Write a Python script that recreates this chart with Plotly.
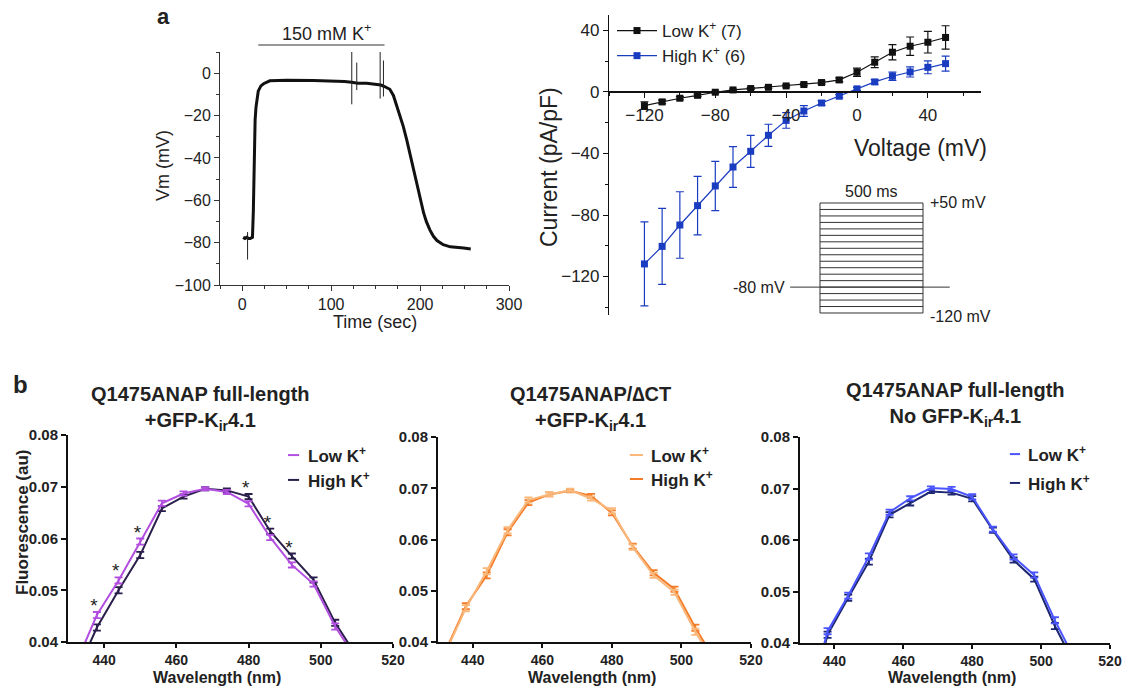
import plotly.graph_objects as go

W, H = 1124, 686
FONT = "Liberation Sans, Arial, sans-serif"

# ---------------- data: panel a, membrane potential trace ----------------
time_s = [1, 3, 5, 7, 9, 11.5, 12.5, 13.5, 14.5, 15.5, 17, 18, 21, 24, 31, 50, 80, 100,
          115, 123, 130, 140, 151, 156, 160, 166, 170, 174, 178, 181, 185, 189, 193, 196.5, 200,
          204, 207, 211, 215, 219, 226, 234, 249, 257]
vm_mV = [-77.5, -78, -77.5, -78, -78, -77.5, -65, -40, -22, -16, -11, -8.5, -6, -5,
         -3.6, -3.3, -3.4, -3.6, -3.9, -4.3, -4.8, -4.8, -5.2, -5.6, -6.3, -7.6, -10.5, -15.5, -21,
         -25, -31.5, -39, -46, -53, -59.5, -66, -70, -74, -77, -79, -81, -82, -82.5, -83]
# artefact spikes: time, top and bottom of each spike
spike_time_s = [6, 123.2, 128.8, 155.1, 158.8]
spike_max_mV = [-75, 10.3, 5, 10, 6]
spike_min_mV = [-88, -14.7, -8, -12, -11]
k_bar_s = [18, 160]          # 150 mM K+ application

# ---------------- data: panel a, I-V curves ----------------
iv_voltage = [-120, -110, -100, -90, -80, -70, -60, -50, -40, -30, -20, -10, 0, 10, 20, 30, 40, 50]
low_k_current = [-8.9, -6.5, -4.1, -2.2, -0.2, 1.3, 2.2, 3.0, 3.9, 4.8, 6.1, 7.8, 12.8, 19.3, 25.8, 29.7, 32.3, 35.4]
low_k_sem = [2.5, 1.2, 1.0, 0.8, 0.6, 0.6, 0.6, 0.6, 0.7, 0.8, 1.0, 1.3, 2.7, 3.5, 5.0, 6.0, 7.0, 7.6]
high_k_current = [-111.8, -100.4, -86.5, -73.9, -61.1, -48.8, -38.6, -28.2, -18.5, -12.4, -7.2, -2.8, 2.0, 6.5, 10.2, 13.0, 16.0, 18.4]
high_k_sem = [27.3, 24.7, 21.6, 19.0, 16.0, 13.2, 10.4, 7.2, 5.1, 3.5, 1.5, 1.0, 1.0, 1.5, 2.7, 3.3, 4.2, 4.9]

# voltage protocol inset
step_levels_mV = [50, 40, 30, 20, 10, 0, -10, -20, -30, -40, -50, -60, -70, -80, -90, -100, -110, -120]
step_ms = [0, 500]
holding_mV = -80
holding_span_ms = [-145, 630]

# ---------------- data: panel b, fluorescence spectra ----------------
wavelength = [432, 438, 444, 450, 456, 462, 468, 474, 480, 486, 492, 498, 504, 510]
fl_sem = [0.0006, 0.0006, 0.0006, 0.0006, 0.0005, 0.0004, 0.0003, 0.0004, 0.0005, 0.0005, 0.0005, 0.0005, 0.0006, 0.0006]

full_low = [0.0355, 0.0452, 0.0519, 0.0594, 0.0668, 0.0687, 0.0696, 0.0690, 0.0667, 0.0602, 0.0549, 0.0512, 0.0430, 0.0365]
full_high = [0.0335, 0.0428, 0.0500, 0.0568, 0.0658, 0.0681, 0.0696, 0.0693, 0.0681, 0.0614, 0.0566, 0.0520, 0.0437, 0.0372]
dct_low = [0.0377, 0.0466, 0.0538, 0.0618, 0.0677, 0.0688, 0.0696, 0.0680, 0.0656, 0.0585, 0.0530, 0.0497, 0.0420, 0.0352]
dct_high = [0.0380, 0.0470, 0.0530, 0.0614, 0.0672, 0.0688, 0.0695, 0.0685, 0.0652, 0.0587, 0.0535, 0.0503, 0.0428, 0.0360]
nogfp_low = [0.0270, 0.0423, 0.0492, 0.0568, 0.0654, 0.0681, 0.0701, 0.0699, 0.0684, 0.0621, 0.0567, 0.0532, 0.0444, 0.0365]
nogfp_high = [0.0260, 0.0416, 0.0488, 0.0558, 0.0649, 0.0671, 0.0694, 0.0692, 0.0680, 0.0619, 0.0561, 0.0524, 0.0433, 0.0355]
star_wavelengths = [438, 444, 450, 480, 486, 492]

panel_titles = ["<b>Q1475ANAP full-length<br>+GFP-K<sub>ir</sub>4.1</b>",
                "<b>Q1475ANAP/\u2206CT<br>+GFP-K<sub>ir</sub>4.1</b>",
                "<b>Q1475ANAP full-length<br>No GFP-K<sub>ir</sub>4.1</b>"]
panel_colors = [("#b24ee0", "#2a1f4a"), ("#f9b77a", "#f47c28"), ("#4a55ff", "#1d2670")]

# ---------------- layout helpers ----------------
def dx(px0, px1):
    return [px0 / W, px1 / W]

def dy(py_bottom, py_top):
    return [1 - py_bottom / H, 1 - py_top / H]

def to_paper(v, rng, dom):
    return dom[0] + (v - rng[0]) / (rng[1] - rng[0]) * (dom[1] - dom[0])

fig = go.Figure()

# ---- Vm trace (x, y) ----
vm_xr, vm_yr = [-25, 300], [-100, 10]
vm_xd, vm_yd = dx(220, 509), dy(285, 52)
fig.add_trace(go.Scatter(x=time_s, y=vm_mV, mode="lines", line=dict(color="#111", width=3),
                         showlegend=False, xaxis="x", yaxis="y"))
sp_x, sp_y = [], []
for t, hi, lo in zip(spike_time_s, spike_max_mV, spike_min_mV):
    sp_x += [t, t, None]
    sp_y += [hi, lo, None]
fig.add_trace(go.Scatter(x=sp_x, y=sp_y, mode="lines", line=dict(color="#222", width=1),
                         showlegend=False, xaxis="x", yaxis="y"))

# ---- I-V (x2, y2) ----
iv_xr, iv_yr = [-140, 70], [-145, 50]
iv_xd, iv_yd = dx(609, 981), dy(315, 15)
fig.add_trace(go.Scatter(x=iv_voltage, y=low_k_current, mode="lines+markers", name="Low K<sup>+</sup> (7)",
                         line=dict(color="#111", width=1.2), marker=dict(symbol="square", size=7, color="#111"),
                         error_y=dict(type="data", array=low_k_sem, color="#111", thickness=1.2, width=4),
                         xaxis="x2", yaxis="y2"))
fig.add_trace(go.Scatter(x=iv_voltage, y=high_k_current, mode="lines+markers", name="High K<sup>+</sup> (6)",
                         line=dict(color="#1a3cc0", width=1.2), marker=dict(symbol="square", size=7, color="#1a3cc0"),
                         error_y=dict(type="data", array=high_k_sem, color="#1a3cc0", thickness=1.2, width=4),
                         xaxis="x2", yaxis="y2"))

# ---- protocol inset (x3, y3) ----
step_x, step_y = [], []
for lvl in step_levels_mV:
    step_x += [step_ms[0], step_ms[1], None]
    step_y += [lvl, lvl, None]
step_x += [step_ms[0], step_ms[0], None, step_ms[1], step_ms[1], None, holding_span_ms[0], holding_span_ms[1]]
step_y += [min(step_levels_mV), max(step_levels_mV), None, min(step_levels_mV), max(step_levels_mV), None,
           holding_mV, holding_mV]
fig.add_trace(go.Scatter(x=step_x, y=step_y, mode="lines", line=dict(color="#333", width=1),
                         showlegend=False, xaxis="x3", yaxis="y3"))

# ---- fluorescence panels (x4..x6) ----
fl_series = [(full_low, full_high), (dct_low, dct_high), (nogfp_low, nogfp_high)]
fl_xd = [dx(68, 393), dx(438, 751), dx(800, 1110)]
fl_yd = [dy(642, 435), dy(642, 437), dy(643, 437)]
for i, (lo, hi) in enumerate(fl_series):
    ax = str(i + 4)
    for vals, col in ((hi, panel_colors[i][1]), (lo, panel_colors[i][0])):
        fig.add_trace(go.Scatter(x=wavelength, y=vals, mode="lines", line=dict(color=col, width=2),
                                 error_y=dict(type="data", array=fl_sem, color=col, thickness=1.8, width=4),
                                 showlegend=False, xaxis="x" + ax, yaxis="y" + ax))

# significance stars on the first panel
star_y = []
for w in star_wavelengths:
    k = wavelength.index(w)
    star_y.append(max(full_low[k], full_high[k]) + fl_sem[k] + 0.0009)
fig.add_trace(go.Scatter(x=[w - 0.8 for w in star_wavelengths], y=star_y, mode="text", text=["*"] * len(star_y),
                         textfont=dict(family=FONT, size=19, color="#222"), showlegend=False,
                         xaxis="x4", yaxis="y4", cliponaxis=False))

# ---------------- axes ----------------
base_font = dict(family=FONT, color="#222")
layout = dict(
    width=W, height=H, autosize=False, margin=dict(l=0, r=0, t=0, b=0, pad=0, autoexpand=False),
    paper_bgcolor="white", plot_bgcolor="white", font=dict(family=FONT, color="#222"),
    showlegend=True,
    legend=dict(x=612 / W, y=1 - 13 / H, xanchor="left", yanchor="top", bgcolor="rgba(0,0,0,0)",
                font=dict(family=FONT, size=17, color="#222"), itemwidth=40, tracegroupgap=0,
                borderwidth=0),
)
layout["xaxis"] = dict(domain=vm_xd, range=vm_xr, anchor="y", showline=True, linecolor="#333", linewidth=1,
                       ticks="outside", ticklen=5, tickcolor="#333", tickvals=[0, 100, 200, 300],
                       minor=dict(dtick=25, tick0=0, ticks="outside", ticklen=3, tickcolor="#333"),
                       tickfont=dict(size=16, **base_font), showgrid=False, zeroline=False)
layout["yaxis"] = dict(domain=vm_yd, range=vm_yr, anchor="x", showline=True, linecolor="#333", linewidth=1,
                       ticks="outside", ticklen=5, tickcolor="#333", dtick=20, tick0=0,
                       minor=dict(dtick=10, tick0=0, ticks="outside", ticklen=3, tickcolor="#333"),
                       tickfont=dict(size=16, **base_font), showgrid=False, zeroline=False)
zero_pos = to_paper(0, iv_yr, iv_yd)
layout["xaxis2"] = dict(domain=iv_xd, range=iv_xr, anchor="free", position=zero_pos, showline=True,
                        linecolor="#111", linewidth=1.5, ticks="outside", ticklen=5, tickcolor="#111",
                        dtick=40, tick0=0, ticklabelstandoff=3,
                        minor=dict(dtick=20, tick0=0, ticks="outside", ticklen=3, tickcolor="#111"),
                        tickfont=dict(size=17, **base_font), showgrid=False, zeroline=False)
layout["yaxis2"] = dict(domain=iv_yd, range=iv_yr, anchor="x2", showline=True, linecolor="#111", linewidth=1.2,
                        ticks="outside", ticklen=5, tickcolor="#111", dtick=40, tick0=0,
                        minor=dict(dtick=20, tick0=0, ticks="outside", ticklen=3, tickcolor="#111"),
                        tickfont=dict(size=17, **base_font), showgrid=False, zeroline=False)
# inset axes: 0.206 px per ms, 0.647 px per mV
inset_xr, inset_yr = [-160, 645], [-125, 55]
layout["xaxis3"] = dict(domain=dx(820 + inset_xr[0] * 0.206, 820 + inset_xr[1] * 0.206), range=inset_xr,
                        anchor="y3", visible=False)
layout["yaxis3"] = dict(domain=dy(203 + (50 - inset_yr[0]) * 0.647, 203 - (inset_yr[1] - 50) * 0.647),
                        range=inset_yr, anchor="x3", visible=False)
for i in range(3):
    ax = str(i + 4)
    layout["xaxis" + ax] = dict(domain=fl_xd[i], range=[430, 520], anchor="y" + ax, showline=True,
                                linecolor="#111", linewidth=2, ticks="outside", ticklen=4, tickwidth=2,
                                tickcolor="#111", tickvals=[440, 460, 480, 500, 520],
                                tickfont=dict(size=14, weight="bold", **base_font), showgrid=False, zeroline=False)
    layout["yaxis" + ax] = dict(domain=fl_yd[i], range=[0.04, 0.08], anchor="x" + ax, showline=True,
                                linecolor="#111", linewidth=2, ticks="outside", ticklen=5, tickwidth=2,
                                tickcolor="#111", dtick=0.01, tick0=0.04, tickformat=".2f",
                                tickfont=dict(size=15, weight="bold", **base_font), showgrid=False, zeroline=False)
fig.update_layout(**layout)

# ---------------- text ----------------
ann = []
def A(text, x, y, size, xref="paper", yref="paper", xanchor="center", yanchor="middle", angle=0, bold=False, color="#222"):
    ann.append(dict(text=text, x=x, y=y, xref=xref, yref=yref, xanchor=xanchor, yanchor=yanchor, textangle=angle,
                    showarrow=False, font=dict(family=FONT, size=size, color=color, weight="bold" if bold else "normal")))

A("a", 163 / W, 1 - 16 / H, 22, bold=True)
A("b", 20 / W, 1 - 384 / H, 24, bold=True)
# Vm panel
A("Vm (mV)", 163 / W, 1 - 166 / H, 18, angle=-90)
A("Time (sec)", 375 / W, 1 - 322 / H, 18)
A("150 mM K<sup>+</sup>", 95, 1 - 32 / H, 18, xref="x")
# I-V panel
A("Current (pA/pF)", 549 / W, 1 - 167 / H, 23, angle=-90)
A("Voltage (mV)", 920 / W, 1 - 148 / H, 23)
A("500 ms", 250, 52, 16, xref="x3", yref="y3", yanchor="bottom")
A("+50 mV", 525, 50, 16, xref="x3", yref="y3", xanchor="left")
A("-80 mV", -160, holding_mV, 16, xref="x3", yref="y3", xanchor="right")
A("-120 mV", 525, -125, 16, xref="x3", yref="y3", xanchor="left")
# fluorescence panels
title_pos = [(200, 408), (591, 408), (955, 404)]
wl_title_x = [217, 592, 952]
legend_pos = [((0.677, 0.711, 0.732), (0.903, 0.783)),
              ((0.613, 0.655, 0.674), (0.912, 0.795)),
              ((0.677, 0.710, 0.729), (0.917, 0.777))]
shapes = []
for i in range(3):
    ax = str(i + 4)
    A(panel_titles[i], title_pos[i][0] / W, 1 - title_pos[i][1] / H, 20)
    A("<b>Wavelength (nm)</b>", wl_title_x[i] / W, 1 - 677 / H, 16)
    (x0, x1, xt), (ylo, yhi) = legend_pos[i]
    for lbl, yy, col in (("Low K<sup>+</sup>", ylo, panel_colors[i][0]), ("High K<sup>+</sup>", yhi, panel_colors[i][1])):
        shapes.append(dict(type="line", xref="x" + ax + " domain", yref="y" + ax + " domain",
                           x0=x0, x1=x1, y0=yy, y1=yy, line=dict(color=col, width=2)))
        A("<b>" + lbl + "</b>", xt, yy, 17, xref="x" + ax + " domain", yref="y" + ax + " domain", xanchor="left")
A("<b>Fluorescence (au)</b>", 22 / W, 1 - 522 / H, 17, angle=-90)

# 150 mM K+ bar (above the Vm axes)
bar_y = to_paper(13.3, vm_yr, vm_yd)
shapes.append(dict(type="line", xref="paper", yref="paper",
                   x0=to_paper(k_bar_s[0], vm_xr, vm_xd), x1=to_paper(k_bar_s[1], vm_xr, vm_xd),
                   y0=bar_y, y1=bar_y, line=dict(color="#333", width=1.2)))
fig.update_layout(annotations=ann, shapes=shapes)

fig.write_html("out.html", config={"displayModeBar": False},
               post_script="document.body.style.margin='0px';document.body.style.overflow='hidden';")
